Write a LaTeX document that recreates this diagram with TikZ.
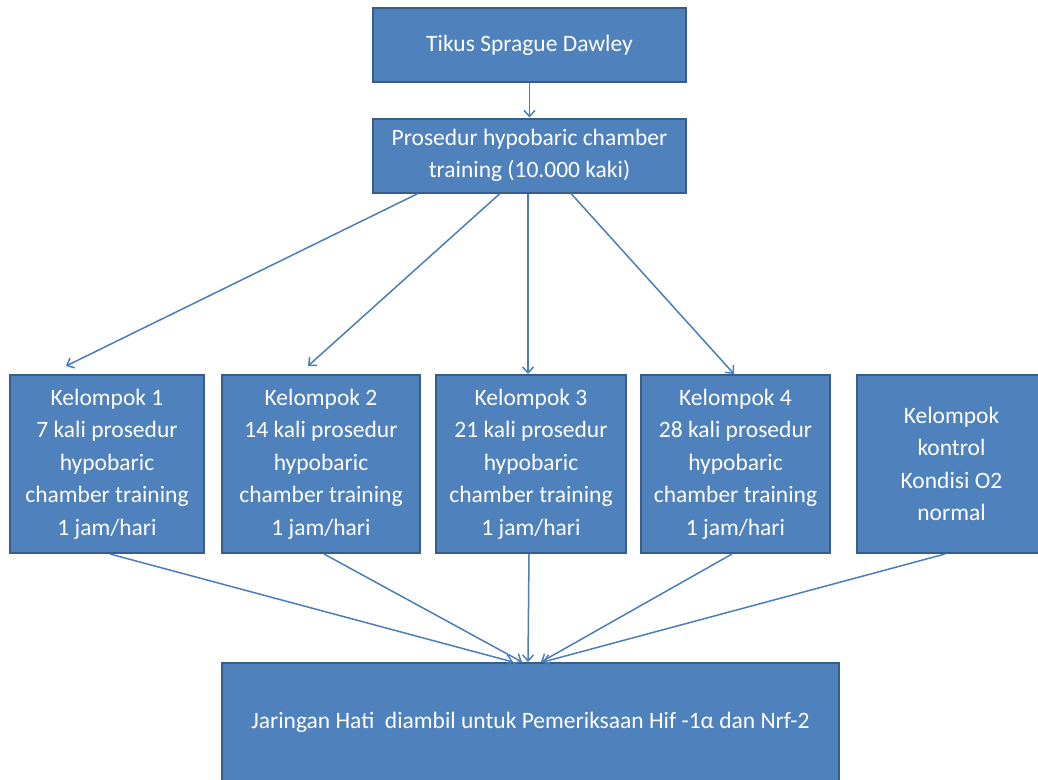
\documentclass[tikz,border=0pt]{standalone}
\usepackage{fontspec}
\setmainfont{Carlito}
\usetikzlibrary{arrows.meta}
\definecolor{boxblue}{HTML}{4F81BD}
\definecolor{boxedge}{HTML}{385D8A}
\definecolor{lineblue}{HTML}{4A7EBB}

\begin{document}
\begin{tikzpicture}[x=1pt, y=-1pt,
    box/.style={rectangle, draw=boxedge, fill=boxblue, line width=2pt, text=white, align=center, inner sep=0pt, font=\fontsize{23.5}{32.5}\selectfont},
    arr/.style={draw=lineblue, line width=1.5pt, -{Straight Barb[length=6pt, width=11pt]}}]
    \useasboundingbox (0,0) rectangle (1038,779);
    \clip (0,0) rectangle (1038,779);

    \node[box, minimum width=313pt, minimum height=74pt] (1) at (529.5,45) {Tikus Sprague Dawley};

    \node[box, minimum width=313pt, minimum height=74pt] (2) at (529.5,155.5) {Prosedur hypobaric chamber\\training (10.000 kaki)};

    
    \node[box, minimum width=194pt, minimum height=178pt] (3) at (107,464) {Kelompok 1\\7 kali prosedur\\hypobaric\\chamber training\\1 jam/hari};
    
    \node[box, minimum width=198pt, minimum height=178pt] (4) at (321,464) {Kelompok 2\\14 kali prosedur\\hypobaric\\chamber training\\1 jam/hari};
    
    \node[box, minimum width=190pt, minimum height=178pt] (5) at (531,464) {Kelompok 3\\21 kali prosedur\\hypobaric\\chamber training\\1 jam/hari};
    
    \node[box, minimum width=189pt, minimum height=178pt] (6) at (735.5,464) {Kelompok 4\\28 kali prosedur\\hypobaric\\chamber training\\1 jam/hari};
    
    \node[box, minimum width=189pt, minimum height=178pt] (7) at (951.5,464) {Kelompok\\kontrol\\Kondisi O2\\normal};

    
    \node[box, minimum width=617pt, minimum height=118pt] (8) at (530.5,722) {Jaringan Hati\ \ diambil untuk Pemeriksaan Hif -1α dan Nrf-2};

    \draw[arr] (1) to (2);
    \draw[arr] ([xshift=-111.5pt]2.south) to ([xshift=-41pt, yshift=8pt]3.north);
    \draw[arr] ([xshift=-29.5pt]2.south) to ([xshift=-13pt, yshift=8pt]4.north);
    \draw[arr] ([xshift=-1.5pt]2.south) to ([xshift=-3pt]5.north);
    \draw[arr] ([xshift=41.5pt]2.south) to ([xshift=-1.5pt]6.north);
    \draw[arr] ([xshift=3pt]3.south) to ([xshift=-17.5pt]8.north);
    \draw[arr] ([xshift=3pt]4.south) to ([xshift=-8.5pt]8.north);
    \draw[arr] ([xshift=-2pt]5.south) to ([xshift=-2.5pt]8.north);
    \draw[arr] ([xshift=-3.5pt]6.south) to ([xshift=10.5pt]8.north);
    \draw[arr] ([xshift=-6.5pt]7.south) to ([xshift=12.5pt]8.north);
    \end{tikzpicture}
\end{document}
